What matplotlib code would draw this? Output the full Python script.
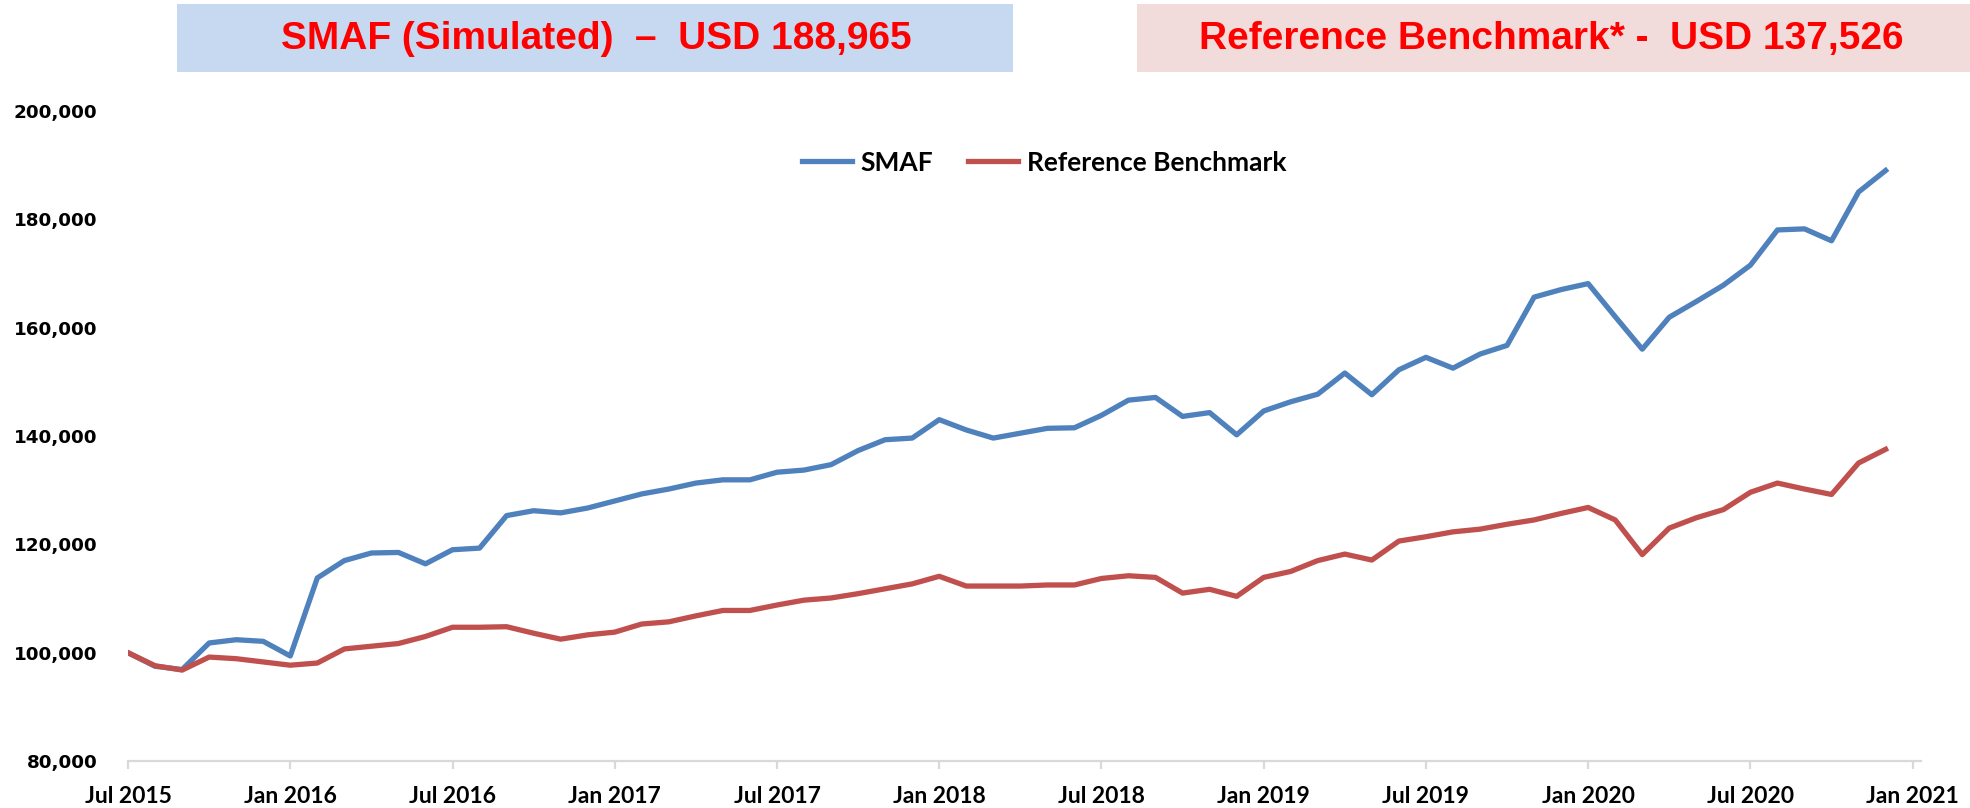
import numpy as np
import pandas as pd
import matplotlib
matplotlib.use("Agg")
import matplotlib.pyplot as plt
from matplotlib.patches import Rectangle
from matplotlib.ticker import FuncFormatter

# month-end values, Jul 2015 .. Dec 2020
months = pd.date_range("2015-07-01", periods=66, freq="MS")

smaf = [
    100000, 97500, 96900, 101800, 102400, 102100, 99400, 113800, 117000, 118400,
    118500, 116400, 119000, 119300, 125300, 126200, 125800, 126700, 128000, 129300,
    130200, 131300, 131900, 131900, 133300, 133700, 134700, 137300, 139300, 139600,
    143000, 141100, 139600, 140500, 141400, 141500, 143800, 146600, 147100, 143600,
    144300, 140200, 144600, 146300, 147700, 151600, 147600, 152200, 154500, 152500,
    155100, 156700, 165600, 167000, 168100, 162000, 156000, 161900, 164800, 167800,
    171500, 178000, 178200, 176000, 185000, 188965,
]

benchmark = [
    100000, 97600, 96800, 99200, 98900, 98300, 97700, 98100, 100700, 101200,
    101700, 103000, 104700, 104700, 104800, 103600, 102500, 103300, 103800, 105300,
    105700, 106800, 107800, 107800, 108800, 109700, 110100, 110900, 111800, 112700,
    114100, 112300, 112300, 112300, 112500, 112500, 113700, 114200, 113900, 111000,
    111700, 110400, 113900, 115000, 117000, 118200, 117100, 120600, 121400, 122300,
    122800, 123700, 124500, 125700, 126800, 124500, 118100, 123000, 124900, 126400,
    129600, 131300, 130200, 129200, 135000, 137526,
]

tick_months = pd.date_range("2015-07-01", "2021-01-01", freq="6MS")
tick_labels = [d.strftime("%b %Y") for d in tick_months]

BLUE = "#4F81BD"
RED = "#C0504D"
AXIS_GREY = "#D9D9D9"

fig = plt.figure(figsize=(19.7, 8.08), dpi=100)
ax = fig.add_axes([0.065, 0.058, 0.91, 0.805])

x = np.arange(len(months))
ax.plot(x, smaf, color=BLUE, lw=3.8, label="SMAF", solid_joinstyle="round")
ax.plot(x, benchmark, color=RED, lw=3.8, label="Reference Benchmark", solid_joinstyle="round")

ax.set_ylim(80000, 200000)
ax.set_xlim(0, 66.3)
ax.set_yticks(np.arange(80000, 200001, 20000))
ax.yaxis.set_major_formatter(FuncFormatter(lambda v, _: f"{v:,.0f}"))
tick_pos = [(d.year - 2015) * 12 + d.month - 7 for d in tick_months]
ax.set_xticks(tick_pos)
ax.set_xticklabels(tick_labels)

for side in ["top", "right", "left"]:
    ax.spines[side].set_visible(False)
ax.spines["bottom"].set_color(AXIS_GREY)
ax.spines["bottom"].set_linewidth(1.6)

ax.tick_params(axis="y", length=0, pad=22)
ax.tick_params(axis="x", length=6, width=1.6, color=AXIS_GREY, pad=12)
for lab in ax.get_yticklabels():
    lab.set_fontfamily("DejaVu Sans")
    lab.set_fontweight("bold")
    lab.set_fontsize(13.2)
for lab in ax.get_xticklabels():
    lab.set_fontfamily("Lato")
    lab.set_fontweight("bold")
    lab.set_fontsize(16.5)

leg = ax.legend(loc="upper center", bbox_to_anchor=(0.511, 0.975), ncol=2, frameon=False,
                handlelength=1.9, columnspacing=1.3, handletextpad=0.35,
                prop={"family": "Lato", "weight": "bold", "size": 19})

# header boxes
W, H = 1970, 808
fig.patches.append(Rectangle((177 / W, 1 - 72 / H), (1013 - 177) / W, 68 / H,
                             transform=fig.transFigure, facecolor="#C6D9F1", edgecolor="none"))
fig.patches.append(Rectangle((1137 / W, 1 - 72 / H), (1970 - 1137) / W, 68 / H,
                             transform=fig.transFigure, facecolor="#F2DCDB", edgecolor="none"))
title_font = {"family": "Liberation Sans", "weight": "bold", "size": 28}
fig.text(596 / W, 1 - 39 / H, "SMAF (Simulated)  \u2013  USD 188,965", color="#FF0000",
         ha="center", va="center", fontdict=title_font)
fig.text(1551 / W, 1 - 39 / H, "Reference Benchmark* -  USD 137,526", color="#FF0000",
         ha="center", va="center", fontdict=title_font)

fig.savefig("out.png", dpi=100)
